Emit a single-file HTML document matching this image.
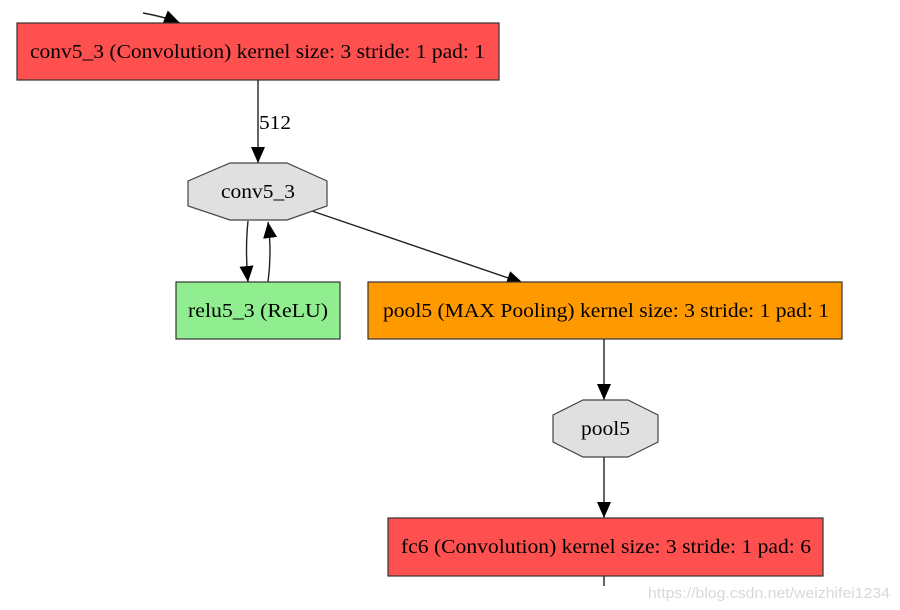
<!DOCTYPE html>
<html><head><style>body{margin:0;background:#fff}svg{display:block}</style></head><body>
<svg width="900" height="610" xmlns="http://www.w3.org/2000/svg" font-family="Liberation Serif, serif" font-size="20">
<defs><marker id="b" markerWidth="16" markerHeight="14" refX="16" refY="7" orient="auto" markerUnits="userSpaceOnUse"><path d="M0,0L16,7L0,14z" fill="#000"/></marker></defs>
<g stroke="#222" stroke-width="1.4" fill="none">
<path d="M143,13 Q165,17 180,23" marker-end="url(#b)"/>
<path d="M258,80 V163" marker-end="url(#b)"/>
<path d="M248,221 Q245,250 248,282" marker-end="url(#b)"/>
<path d="M268,282 Q272,252 268,222" marker-end="url(#b)"/>
<path d="M312,211 L523,283" marker-end="url(#b)"/>
<path d="M604,339 V400" marker-end="url(#b)"/>
<path d="M604,457 V518" marker-end="url(#b)"/>
<path d="M604,576 V586"/>
</g>
<rect x="17" y="23" width="482" height="57" fill="#ff5050" stroke="#333" stroke-width="1.2"/>
<text x="30" y="58" textLength="455" lengthAdjust="spacingAndGlyphs">conv5_3 (Convolution) kernel size: 3 stride: 1 pad: 1</text>
<text x="259" y="129" textLength="32" lengthAdjust="spacingAndGlyphs">512</text>
<polygon points="230,163 287,163 327,181 327,206 287,220 230,220 188,206 188,181" fill="#e0e0e0" stroke="#444" stroke-width="1.2"/>
<text x="221" y="198" textLength="74" lengthAdjust="spacingAndGlyphs">conv5_3</text>
<rect x="176" y="282" width="164" height="57" fill="#90ee90" stroke="#333" stroke-width="1.2"/>
<text x="188" y="317" textLength="140" lengthAdjust="spacingAndGlyphs">relu5_3 (ReLU)</text>
<rect x="368" y="282" width="474" height="57" fill="#ff9900" stroke="#333" stroke-width="1.2"/>
<text x="383" y="317" textLength="446" lengthAdjust="spacingAndGlyphs">pool5 (MAX Pooling) kernel size: 3 stride: 1 pad: 1</text>
<polygon points="583,400 628,400 658,415 658,442 628,457 583,457 553,442 553,415" fill="#e0e0e0" stroke="#444" stroke-width="1.2"/>
<text x="581" y="435" textLength="49" lengthAdjust="spacingAndGlyphs">pool5</text>
<rect x="388" y="518" width="435" height="58" fill="#ff5050" stroke="#333" stroke-width="1.2"/>
<text x="401" y="553" textLength="410" lengthAdjust="spacingAndGlyphs">fc6 (Convolution) kernel size: 3 stride: 1 pad: 6</text>
<text x="648" y="598" textLength="242" lengthAdjust="spacingAndGlyphs" font-family="Liberation Sans, sans-serif" font-size="15" fill="#d8d8d8">https://blog.csdn.net/weizhifei1234</text>
</svg>
</body></html>
